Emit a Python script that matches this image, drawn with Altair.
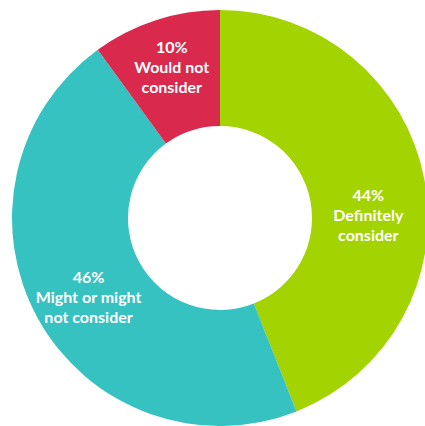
import altair as alt
import pandas as pd

# Survey shares, clockwise from 12 o'clock
categories = ["Definitely consider", "Might or might not consider", "Would not consider"]
shares = [44, 46, 10]
label_lines = [
    ["44%", "Definitely", "consider"],
    ["46%", "Might or might", "not consider"],
    ["10%", "Would not", "consider"],
]
colors = ["#a3d300", "#36c2c0", "#d92a4e"]

df = pd.DataFrame({
    "category": categories,
    "share": shares,
    "order": list(range(len(categories))),
    "label": label_lines,
})

cx, cy = 220, 218
theta_scale = alt.Scale(domain=[0, 100], range=[0, 6.283185307179586])

ring = alt.Chart(df).mark_arc(outerRadius=208, innerRadius=92, stroke=None).encode(
    theta=alt.Theta("share:Q", stack=True, scale=theta_scale),
    order=alt.Order("order:Q"),
    color=alt.Color("category:N", scale=alt.Scale(domain=categories, range=colors), legend=None),
    x=alt.value(cx),
    y=alt.value(cy),
)

# Label placement per slice: (radius, vertical nudge)
label_style = {
    "Definitely consider": (151, 6),
    "Might or might not consider": (150, -12),
    "Would not consider": (156, -22),
}

base_text = alt.Chart(df).transform_window(
    cum="sum(share)", sort=[alt.SortField("order")]
).transform_calculate(
    mid="datum.cum - datum.share / 2"
)

text_layers = []
for cat in categories:
    r, nudge = label_style[cat]
    text_layers.append(
        base_text.transform_filter(alt.datum.category == cat).mark_text(
            radius=r, dy=nudge, color="white", font="Lato", fontSize=16,
            fontWeight="bold", lineHeight=20, align="center", baseline="middle",
        ).encode(
            theta=alt.Theta("mid:Q", stack=False, scale=theta_scale),
            text="label:N",
            x=alt.value(cx),
            y=alt.value(cy),
        )
    )

chart = alt.layer(ring, *text_layers).properties(
    width=425, height=426, padding=0, autosize="none"
).configure_view(stroke=None)

chart.save("out.html", embed_options={"renderer": "svg", "actions": False})
